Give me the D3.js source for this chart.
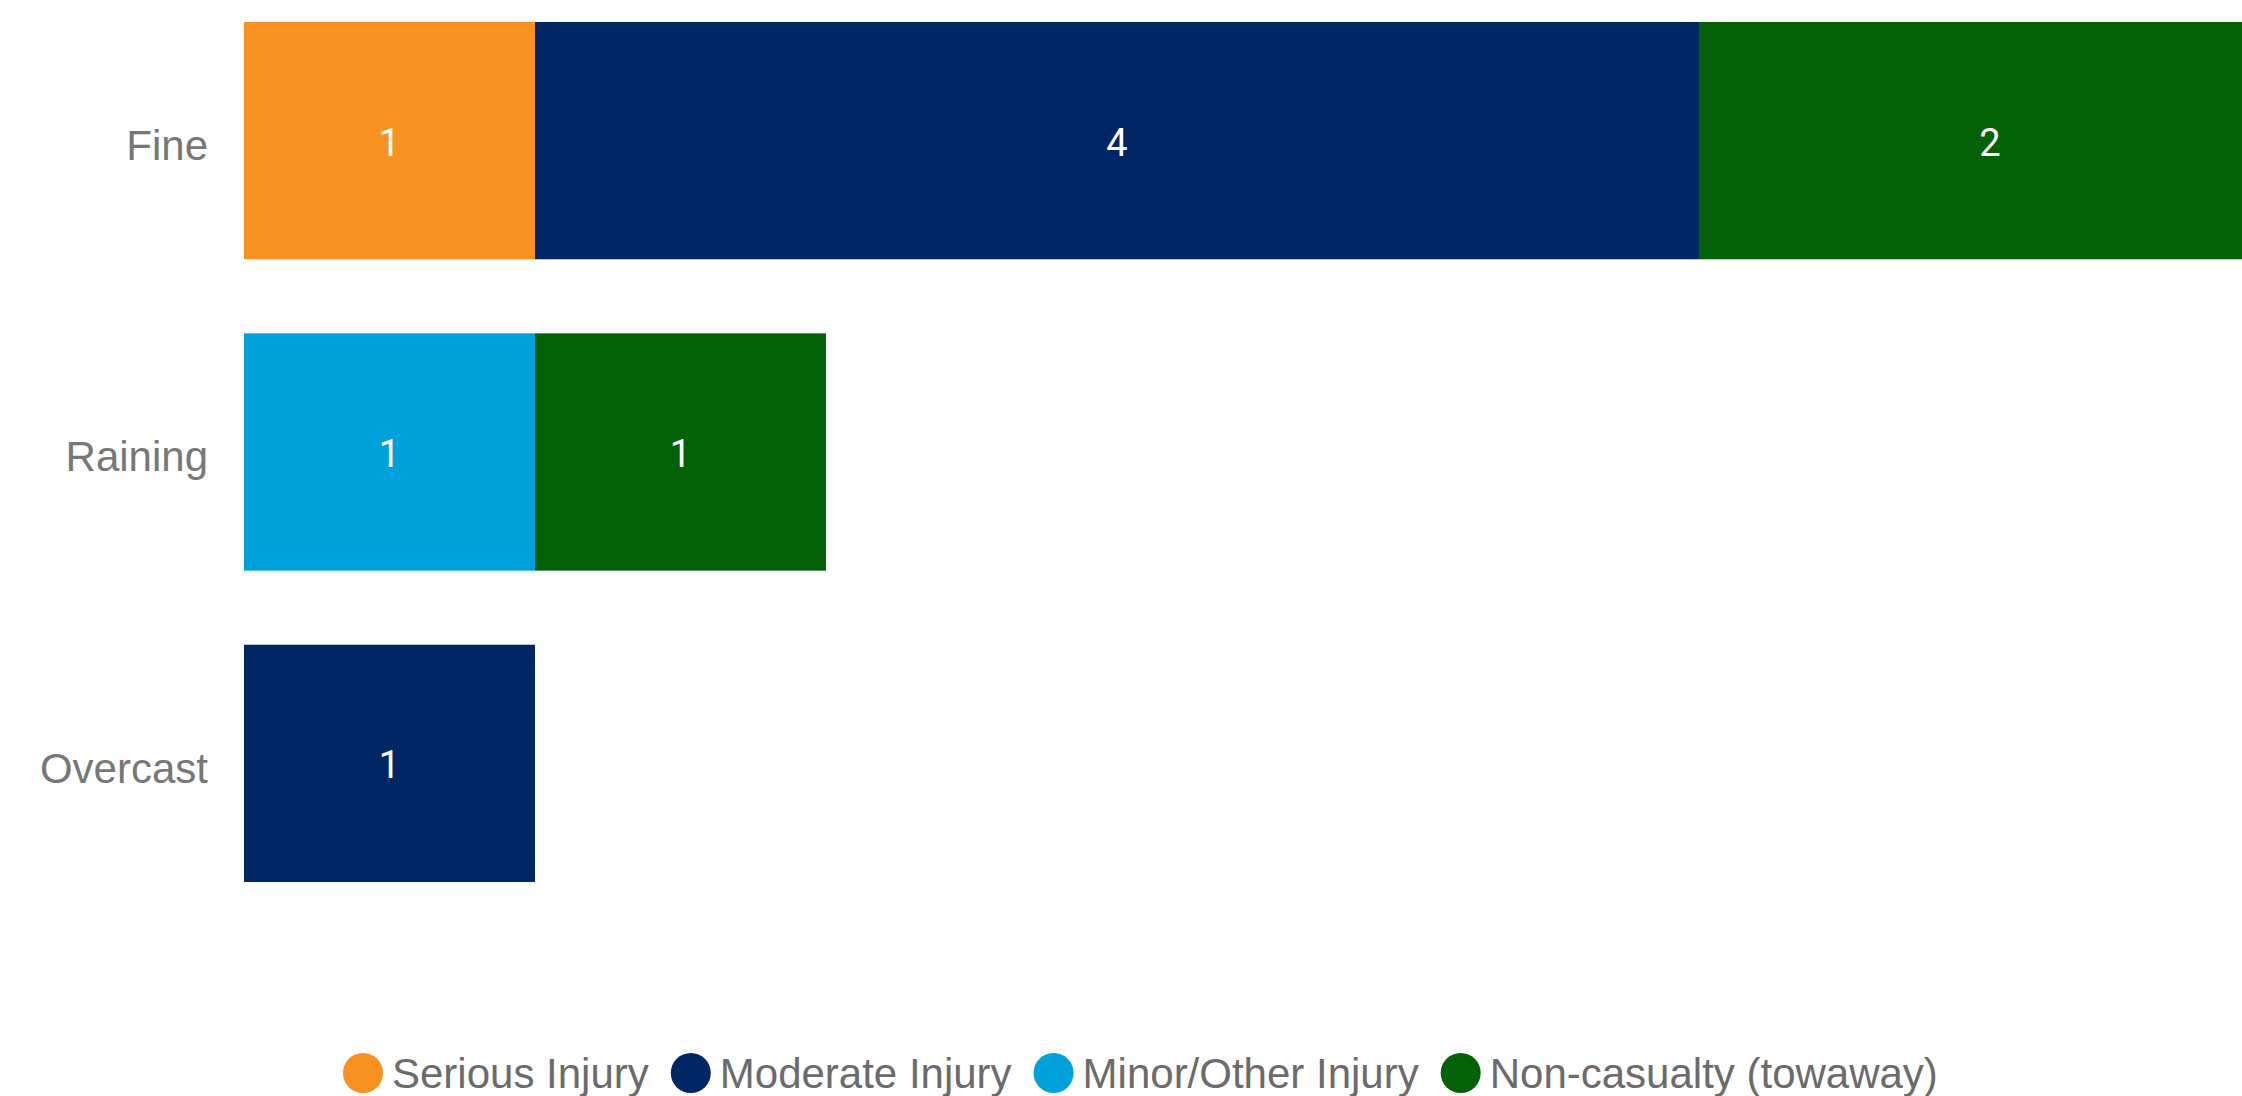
<!DOCTYPE html>
<html>
<head>
<meta charset="utf-8">
<script src="https://cdn.jsdelivr.net/npm/d3@7"></script>
<style>
    html, body { margin: 0; padding: 0; background: #ffffff; overflow: hidden; }
    svg { display: block; }
</style>
</head>
<body>
<svg id="weather_chart" width="2242" height="1096"></svg>
<script>
// chart data
const categories = ["Fine", "Raining", "Overcast"];
const series_names = ["Serious Injury", "Moderate Injury", "Minor/Other Injury", "Non-casualty (towaway)"];
const serious_injury = [1, 0, 0];
const moderate_injury = [4, 0, 1];
const minor_injury = [0, 1, 0];
const non_casualty = [2, 1, 0];
const x_max = 7;

const colours = ["#F7911F", "#002664", "#00A0DA", "#056108"];

document.addEventListener("DOMContentLoaded", function() {
    drawChart();
});

function drawChart(){
    var svg = d3.select("#weather_chart");
    var series_values = [serious_injury, moderate_injury, minor_injury, non_casualty];

    // one row per category, one key per series
    var rows = categories.map(function(c, i){
        var row = {category: c};
        series_names.forEach(function(s, j){ row[s] = series_values[j][i]; });
        return row;
    });
    var stacked = d3.stack().keys(series_names)(rows);

    var x = d3.scaleLinear()
        .domain([0, x_max])
        .range([244, 244 + x_max * 291]);

    var y = d3.scaleBand()
        .domain(categories)
        .range([22, 882])
        .paddingInner(0.238)
        .paddingOuter(0);

    var color = d3.scaleOrdinal()
        .domain(series_names)
        .range(colours);

    // category labels (axis without line/ticks)
    var yAxis = svg.append("g")
        .attr("transform", "translate(" + (x(0) - 36) + ",6)")
        .call(d3.axisLeft(y).tickSize(0).tickPadding(0));
    yAxis.select(".domain").remove();
    yAxis.selectAll("text")
        .attr("font-family", "'Liberation Sans', Arial, sans-serif")
        .attr("font-size", 42)
        .attr("fill", "#777777");

    var layers = svg.append("g")
        .selectAll("g")
        .data(stacked)
        .join("g")
        .attr("fill", function(d){ return color(d.key); });

    layers.selectAll("rect")
        .data(function(d){ return d.map(function(p){ p.key = d.key; return p; }); })
        .join("rect")
        .filter(function(d){ return d[1] - d[0] > 0; })
        .attr("x", function(d){ return x(d[0]); })
        .attr("y", function(d){ return y(d.data.category); })
        .attr("width", function(d){ return x(d[1]) - x(d[0]); })
        .attr("height", y.bandwidth());

    // value labels
    var labels = svg.append("g");
    stacked.forEach(function(layer){
        layer.forEach(function(d){
            var v = d[1] - d[0];
            if (v <= 0) return;
            labels.append("text")
                .attr("x", (x(d[0]) + x(d[1])) / 2)
                .attr("y", y(d.data.category) + y.bandwidth() / 2)
                .attr("dy", 15)
                .attr("text-anchor", "middle")
                .attr("font-family", "Roboto, sans-serif")
                .attr("font-size", 38)
                .attr("fill", "#ffffff")
                .text(v);
        });
    });

    // legend
    var legend = svg.append("g");
    var lx = 343;
    series_names.forEach(function(name, i){
        legend.append("circle")
            .attr("cx", lx + 20)
            .attr("cy", 1073)
            .attr("r", 20)
            .attr("fill", colours[i]);
        var t = legend.append("text")
            .attr("x", lx + 49)
            .attr("y", 1088)
            .attr("font-family", "'Liberation Sans', Arial, sans-serif")
            .attr("font-size", 42)
            .attr("fill", "#6b6b6b")
            .text(name);
        lx = lx + 49 + t.node().getComputedTextLength() + 22;
    });
}
</script>
</body>
</html>
